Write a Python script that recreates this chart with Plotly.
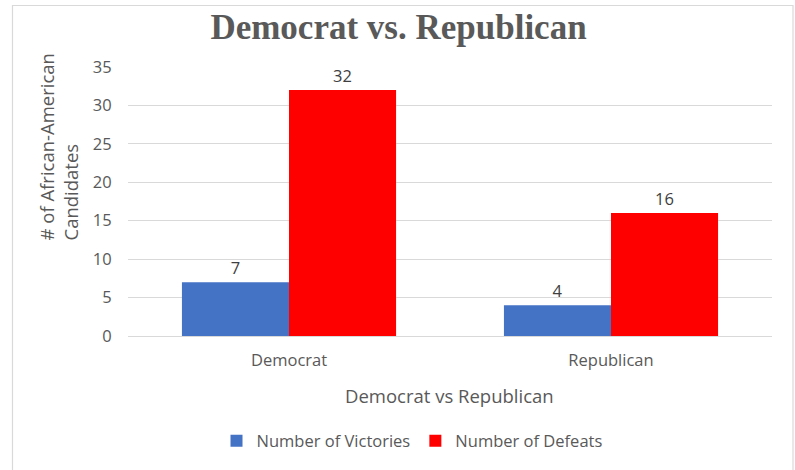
import plotly.graph_objects as go

categories = ["Democrat", "Republican"]
victories = [7, 4]
defeats = [32, 16]
series_names = ["Number of Victories", "Number of Defeats"]
colors = ["#4472C4", "#FF0000"]
y_ticks = [0, 5, 10, 15, 20, 25, 30, 35]
x_title = "Democrat vs Republican"
y_title = "# of African-American<br>Candidates"
chart_title = "Democrat vs. Republican"

FONT = "Open Sans"
GRAY = "#595959"
L, R, T, B = 128, 23, 67, 134
PW, PH = 795 - L - R, 470 - T - B


def px_x(x):
    return (x - L) / PW


def px_y(y):
    return (T + PH - y) / PH


fig = go.Figure()
for name, vals, col in zip(series_names, [victories, defeats], colors):
    fig.add_trace(go.Bar(
        x=categories, y=vals, name=name, marker=dict(color=col, line=dict(width=0)),
        text=[str(v) for v in vals], textposition="outside",
        textfont=dict(family=FONT, size=16.5, color="#404040"), cliponaxis=False,
    ))

fig.update_layout(
    width=795, height=470,
    margin=dict(l=L, r=R, t=T, b=B),
    paper_bgcolor="white", plot_bgcolor="white",
    barmode="group", bargap=0.335, bargroupgap=0,
    title=dict(text="<b>" + chart_title + "</b>", x=398.5 / 795, xanchor="center",
               y=1 - 27 / 470, yanchor="middle", xref="container", yref="container",
               font=dict(family="Liberation Serif", size=35, color=GRAY)),
    font=dict(family=FONT, color=GRAY),
    showlegend=True,
    legend=dict(orientation="h", x=px_x(412), xanchor="center", y=px_y(441), yanchor="middle",
                font=dict(family=FONT, size=16.5, color=GRAY), itemwidth=30,
                traceorder="normal"),
    xaxis=dict(showgrid=False, showline=False, ticks="outside", ticklen=9,
               tickcolor="rgba(0,0,0,0)",
               tickfont=dict(family=FONT, size=16.5, color=GRAY)),
    yaxis=dict(range=[0, 35], tickvals=y_ticks, showgrid=True, gridcolor="#D9D9D9",
               gridwidth=1, zeroline=True, zerolinecolor="#D9D9D9", zerolinewidth=1,
               showline=False, ticks="outside", ticklen=12, tickcolor="rgba(0,0,0,0)",
               tickfont=dict(family=FONT, size=16.5, color=GRAY)),
    annotations=[
        dict(text=x_title, xref="paper", yref="paper", x=px_x(449.5), y=px_y(395),
             xanchor="center", yanchor="middle", showarrow=False,
             font=dict(family=FONT, size=18.5, color=GRAY)),
        dict(text=y_title, xref="paper", yref="paper", x=px_x(58), y=px_y(243),
             xanchor="center", yanchor="bottom", textangle=-90, align="left",
             showarrow=False, font=dict(family=FONT, size=18.5, color=GRAY)),
    ],
    shapes=[dict(type="rect", xref="paper", yref="paper",
                 x0=px_x(12.5), x1=px_x(793),
                 y0=px_y(480), y1=px_y(5.5),
                 line=dict(color="#D9D9D9", width=1.2), fillcolor="rgba(0,0,0,0)",
                 layer="below")],
)

fig.write_html("out.html")
